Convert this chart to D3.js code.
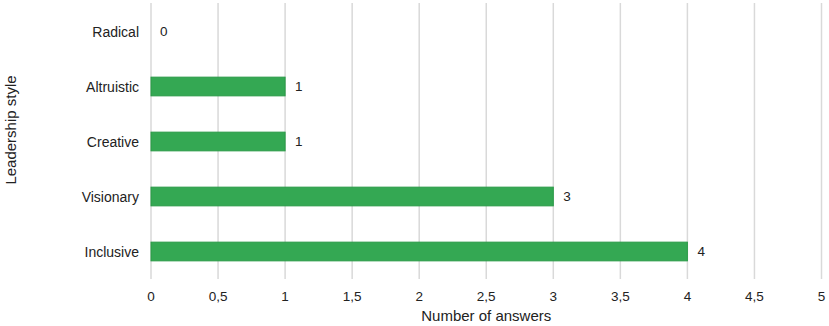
<!DOCTYPE html>
<html><head><meta charset="utf-8">
<script src="https://cdn.jsdelivr.net/npm/d3@7"></script>
<style>body{margin:0;background:#fff;} text{font-family:Arial,"Liberation Sans",sans-serif;}</style>
</head><body><svg id="c" width="829" height="326"></svg>
<script>
const categories = ["Radical","Altruistic","Creative","Visionary","Inclusive"];
const values = [0,1,1,3,4];
const xTicks = [0,0.5,1,1.5,2,2.5,3,3.5,4,4.5,5];
const xTitle = "Number of answers";
const yTitle = "Leadership style";

const svg = d3.select("#c");
const x = d3.scaleLinear().domain([0,5]).range([151,821.5]);
const y = d3.scaleBand().domain(categories).range([4,279]).paddingInner(0.66).paddingOuter(0.33);
const fmt = d => String(d).replace(".", ",");

// grid
svg.append("g").selectAll("line").data(xTicks).join("line")
  .attr("x1", d=>x(d)).attr("x2", d=>x(d)).attr("y1", 3).attr("y2", 279)
  .attr("stroke", "#d9d9d9").attr("stroke-width", 1.5);

// x tick labels
svg.append("g").selectAll("text").data(xTicks).join("text")
  .attr("x", d=>x(d)).attr("y", 301).attr("text-anchor","middle")
  .attr("font-size", 13.5).attr("fill","#222").text(fmt);

// bars
const data = categories.map((c,i)=>({c, v: values[i]}));
svg.append("g").selectAll("rect").data(data.filter(d=>d.v>0)).join("rect")
  .attr("x", x(0)).attr("y", d=>y(d.c)).attr("width", d=>x(d.v)-x(0)).attr("height", y.bandwidth())
  .attr("fill","#34a853").attr("stroke","#2a9a47").attr("stroke-width",1);

// value labels
svg.append("g").selectAll("text").data(data).join("text")
  .attr("x", d=>x(d.v)+ (d.v>0?10:9)).attr("y", d=>y(d.c)+y.bandwidth()/2).attr("dy","0.36em")
  .attr("font-size", 13.5).attr("fill","#222").text(d=>fmt(d.v));

// category labels
svg.append("g").selectAll("text").data(categories).join("text")
  .attr("x", 139).attr("y", d=>y(d)+y.bandwidth()/2).attr("dy","0.36em")
  .attr("text-anchor","end").attr("font-size", 14).attr("fill","#222").text(d=>d);

// titles
svg.append("text").attr("x", (x(0)+x(5))/2).attr("y", 321).attr("text-anchor","middle")
  .attr("font-size", 15).attr("fill","#222").text(xTitle);
svg.append("text").attr("transform","translate(15.5,130) rotate(-90)").attr("text-anchor","middle")
  .attr("font-size", 15).attr("fill","#222").text(yTitle);
</script></body></html>
